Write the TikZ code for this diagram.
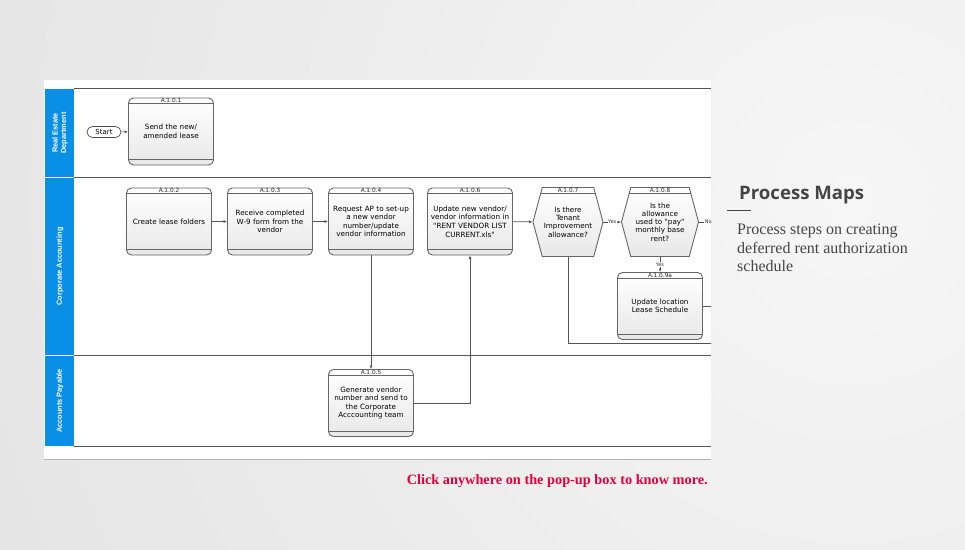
\documentclass[tikz,border=0pt]{standalone}
\usepackage{fontspec}
\setmainfont{Liberation Serif}
\newfontfamily\boxfont{DejaVu Sans}
\newfontfamily\lanefont{Liberation Sans}
\newfontfamily\headfont{Open Sans}
\usetikzlibrary{shapes.misc,shapes.symbols,arrows.meta}
\definecolor{laneblue}{HTML}{0A8FE6}
\definecolor{linegray}{HTML}{555555}
\definecolor{boxedge}{HTML}{666666}
\definecolor{clickred}{HTML}{E2003C}
\definecolor{bgin}{HTML}{F6F6F6}
\definecolor{bgout}{HTML}{D4D4D4}
\definecolor{textgray}{HTML}{454545}
\tikzset{
  task/.style={draw=boxedge, line width=0.9pt, rounded corners=5pt,
    top color=white, bottom color=black!9,
    minimum width=85pt, minimum height=67pt, text width=84pt, inner sep=0.5pt,
    align=center, text=black, font=\boxfont\fontsize{7.2}{8.6}\selectfont,
    path picture={
      \draw[boxedge, line width=0.6pt]
        ([yshift=-5.5pt]path picture bounding box.north west) -- ([yshift=-5.5pt]path picture bounding box.north east);
      \draw[boxedge, line width=0.6pt]
        ([yshift=5.5pt]path picture bounding box.south west) -- ([yshift=5.5pt]path picture bounding box.south east);}},
  decision/.style={signal, signal to=east and west, signal pointer angle=150,
    draw=boxedge, line width=0.9pt, top color=white, bottom color=black!9,
    minimum height=69pt, inner sep=0.5pt, align=center, text=black,
    font=\boxfont\fontsize{7.2}{8.3}\selectfont,
    path picture={
      \draw[boxedge, line width=0.6pt]
        ([yshift=-5.5pt]path picture bounding box.north west) -- ([yshift=-5.5pt]path picture bounding box.north east);}},
  tag/.style={font=\boxfont\fontsize{5.8}{6}\selectfont, inner sep=0pt, anchor=north, yshift=-0.6pt, text=black!85},
  startterm/.style={rounded rectangle, draw=black!70, line width=0.7pt, minimum width=34pt,
    minimum height=11pt, inner sep=0pt, fill=white, font=\boxfont\fontsize{7}{7}\selectfont},
  lanelbl/.style={rotate=90, align=center, text=white, inner sep=0pt,
    font=\lanefont\bfseries\fontsize{7.4}{8.4}\selectfont},
  conn/.style={draw=linegray, line width=0.7pt},
  flow/.style={conn, -{Latex[length=3.5pt,width=3pt]}},
  yeslbl/.style={font=\boxfont\fontsize{5}{5}\selectfont, fill=white, inner sep=0.6pt, text=black!80}
}
\begin{document}
\begin{tikzpicture}[x=1pt, y=-1pt]
\useasboundingbox (0,0) rectangle (965,549);
% background
\begin{scope}
\clip (0,0) rectangle (965,549);
\shade[inner color=bgin, outer color=bgout] (-950,-1600) rectangle (2650,2000);
\end{scope}
% white panel
\fill[white] (44,80) rectangle (711,459);
\draw[black!30, line width=1.2pt] (44,459.6) -- (711,459.6);
\begin{scope}
\clip (44,80) rectangle (711,460);
% lanes
\fill[laneblue] (45,89) rectangle (74,177);
\fill[laneblue] (45,178) rectangle (74,355);
\fill[laneblue] (45,356) rectangle (74,446);
\draw[linegray, line width=0.8pt] (74,88.5) -- (711,88.5);
\draw[linegray, line width=0.8pt] (74,177.5) -- (711,177.5);
\draw[linegray, line width=0.8pt] (74,355.5) -- (711,355.5);
\draw[linegray, line width=0.8pt] (74,446.5) -- (711,446.5);
\node[lanelbl] (laneRE) at (60,133) {Real Estate\\Department};
\node[lanelbl] (laneCA) at (60,266.5) {Corporate Accounting};
\node[lanelbl] (laneAP) at (60,401) {Accounts Payable};
% steps
\node[startterm] (start) at (104,132) {Start};
\node[task, label={[tag]north:A.1.0.1}] (a101) at (171,131.5) {Send the new/\\amended lease};
\node[task, label={[tag]north:A.1.0.2}] (a102) at (169,221.5) {Create lease folders};
\node[task, label={[tag]north:A.1.0.3}] (a103) at (270,221.5) {Receive completed\\W-9 form from the\\vendor};
\node[task, label={[tag]north:A.1.0.4}] (a104) at (371,221.5) {Request AP to set-up\\a new vendor\\number/update\\vendor information};
\node[task, label={[tag]north:A.1.0.6}] (a106) at (470,221.5) {Update new vendor/\\vendor information in\\"RENT VENDOR LIST\\CURRENT.xls"};
\node[decision, minimum width=70pt, label={[tag]north:A.1.0.7}] (a107) at (568,222) {Is there\\Tenant\\Improvement\\allowance?};
\node[decision, minimum width=77pt, label={[tag]north:A.1.0.8}] (a108) at (660,222) {Is the\\allowance\\used to "pay"\\monthly base\\rent?};
\node[task, label={[tag]north:A.1.0.9a}] (a109) at (660,306) {Update location\\Lease Schedule};
\node[task, label={[tag]north:A.1.0.5}] (a105) at (371,403) {Generate vendor\\number and send to\\the Corporate\\Acccounting team};
% off-page ends
\coordinate (noend) at (730,222);
\coordinate (exita) at (730,306);
\coordinate (exitb) at (730,343);
% connectors
\draw[flow] (start) -- (a101);
\draw[flow] (a102) -- (a103);
\draw[flow] (a103) -- (a104);
\draw[flow] (a104) -- (a105);
\draw[flow] (a105.east) -| (a106.south);
\draw[flow] (a106) -- (a107);
\draw[flow] (a107.east) -- node[yeslbl] {Yes} (a108.west);
\draw[conn] (a108.east) -- node[yeslbl, pos=0.3] {No} (noend);
\draw[flow] (a108.south) -- node[yeslbl] {Yes} (a109.north);
\draw[conn] (a109.east) -- (exita);
\draw[conn] (a107.south) |- (exitb);
\end{scope}
% side text
\node[anchor=base west, inner sep=0pt, text=textgray, font=\headfont\bfseries\fontsize{18.6}{21}\selectfont] (title) at (739,199) {Process Maps};
\draw[textgray, line width=0.8pt] (727,210) -- (751,210);
\node[anchor=north west, inner sep=0pt, align=left, text=textgray, font=\fontsize{16}{18.5}\selectfont] (blurb) at (737,224) {Process steps on creating\\deferred rent authorization\\schedule};
\node[anchor=base east, inner sep=0pt, text=clickred, font=\bfseries\fontsize{14.3}{16}\selectfont] (clicknote) at (708,484) {Click anywhere on the pop-up box to know more.};
\end{tikzpicture}
\end{document}
